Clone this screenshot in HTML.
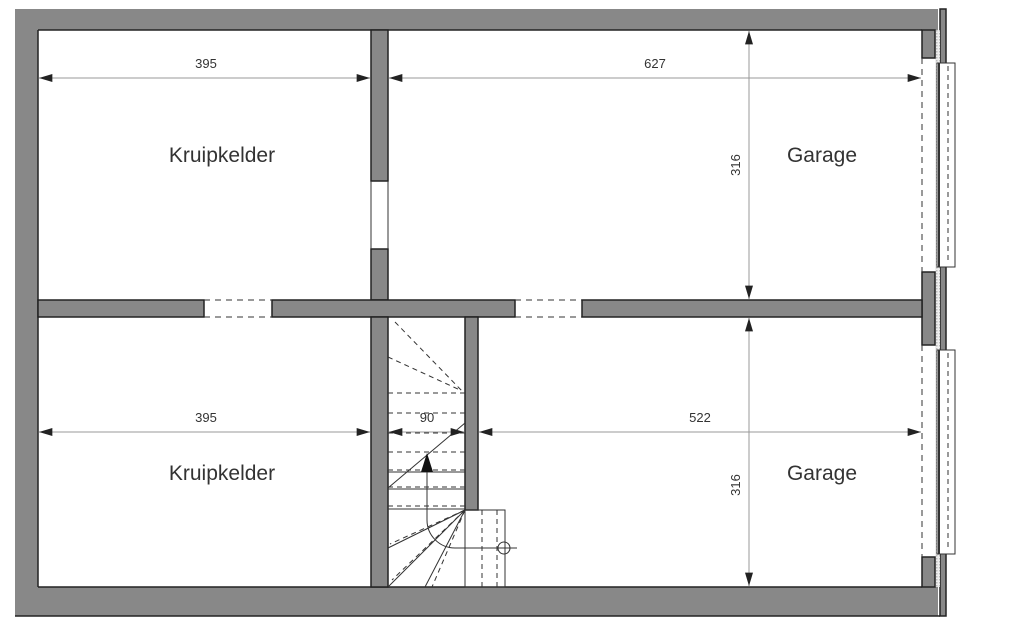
<!DOCTYPE html>
<html><head><meta charset="utf-8"><style>
html,body{margin:0;padding:0;background:#fff;}
svg{display:block;}
text{font-family:"Liberation Sans",sans-serif;fill:#333;}
</style></head><body>
<svg width="1024" height="633" viewBox="0 0 1024 633" xmlns="http://www.w3.org/2000/svg">
<defs>
<marker id="a" viewBox="0 0 10 6" refX="10" refY="3" markerWidth="20" markerHeight="8" markerUnits="userSpaceOnUse" orient="auto-start-reverse"><path d="M0,0L10,3L0,6z" fill="#222"/></marker>
<pattern id="h" width="3" height="3" patternUnits="userSpaceOnUse"><rect width="3" height="3" fill="#eee"/><rect width="1.5" height="1.5" fill="#bbb"/></pattern>
</defs>
<g fill="#888" stroke="#222" stroke-width="1.5">
<path d="M15,9 H938 V30 H38 V587 H938 V616 H15 Z" stroke="none"/>
<line x1="38" y1="30" x2="922" y2="30"/>
<line x1="38" y1="30" x2="38" y2="587"/>
<line x1="38" y1="587" x2="922" y2="587"/>
<line x1="15" y1="616" x2="940" y2="616"/>
<rect x="940" y="9" width="6" height="607"/>
<rect x="935" y="30" width="5" height="557" fill="url(#h)" stroke="none"/>
<rect x="922" y="30" width="13" height="28"/>
<rect x="922" y="272" width="13" height="73"/>
<rect x="922" y="557" width="13" height="30"/>
<rect x="371" y="30" width="17" height="151"/>
<rect x="371" y="249" width="17" height="51"/>
<rect x="38" y="300" width="166" height="17"/>
<rect x="272" y="300" width="243" height="17"/>
<rect x="582" y="300" width="340" height="17"/>
<rect x="371" y="317" width="17" height="270"/>
<rect x="465" y="317" width="13" height="193"/>
</g>
<g fill="none" stroke="#333" stroke-width="1">
<line x1="371" y1="181" x2="371" y2="249"/><line x1="388" y1="181" x2="388" y2="249"/>
<g stroke-dasharray="6,5">
<line x1="204" y1="300" x2="272" y2="300"/><line x1="204" y1="317" x2="272" y2="317"/>
<line x1="515" y1="300" x2="582" y2="300"/><line x1="515" y1="317" x2="582" y2="317"/>
<line x1="922" y1="58" x2="922" y2="272"/><line x1="922" y1="345" x2="922" y2="557"/>
</g>
<rect x="937" y="63" width="18" height="204" fill="#fff"/>
<rect x="937" y="350" width="18" height="204" fill="#fff"/>
<line x1="939" y1="63" x2="939" y2="267" stroke-width="2"/>
<line x1="939" y1="350" x2="939" y2="554" stroke-width="2"/>
<line x1="948" y1="66" x2="948" y2="264" stroke-dasharray="5,4"/>
<line x1="948" y1="353" x2="948" y2="551" stroke-dasharray="5,4"/>
<g stroke-dasharray="5,4">
<line x1="388" y1="393" x2="465" y2="393"/><line x1="388" y1="413" x2="465" y2="413"/>
<line x1="388" y1="433" x2="465" y2="433"/><line x1="388" y1="452" x2="465" y2="452"/>
<line x1="388" y1="470" x2="465" y2="470"/><line x1="388" y1="487" x2="465" y2="487"/>
<line x1="388" y1="506" x2="465" y2="506"/>
<line x1="395" y1="322" x2="463" y2="392"/><line x1="388" y1="357" x2="460" y2="390"/>
<line x1="465" y1="510" x2="390" y2="544"/><line x1="465" y1="510" x2="392" y2="580"/>
<line x1="465" y1="510" x2="432" y2="587"/>
<line x1="482" y1="510" x2="482" y2="587"/><line x1="497" y1="510" x2="497" y2="587"/>
</g>
<line x1="388" y1="472" x2="465" y2="472"/><line x1="388" y1="489" x2="465" y2="489"/><line x1="388" y1="509" x2="465" y2="509"/>
<line x1="388" y1="488" x2="465" y2="423"/>
<line x1="465" y1="510" x2="388" y2="548"/><line x1="465" y1="510" x2="388" y2="587"/><line x1="465" y1="510" x2="425" y2="587"/>
<rect x="465" y="510" width="40" height="77"/>
<path d="M427,470 V520 A28,28 0 0 0 455,548 H517"/>
<circle cx="504" cy="548" r="6"/>
</g>
<path d="M427,453 L421,472 L433,472 Z" fill="#111"/>
<g stroke="#999" stroke-width="1" marker-start="url(#a)" marker-end="url(#a)">
<line x1="39" y1="78" x2="370" y2="78"/>
<line x1="389" y1="78" x2="921" y2="78"/>
<line x1="749" y1="31" x2="749" y2="299"/>
<line x1="39" y1="432" x2="370" y2="432"/>
<line x1="389" y1="432" x2="464" y2="432"/>
<line x1="479" y1="432" x2="921" y2="432"/>
<line x1="749" y1="318" x2="749" y2="586"/>
</g>
<g font-size="13" text-anchor="middle">
<text x="206" y="68">395</text>
<text x="655" y="68">627</text>
<text x="206" y="422">395</text>
<text x="427" y="422">90</text>
<text x="700" y="422">522</text>
<text transform="translate(740,165) rotate(-90)">316</text>
<text transform="translate(740,485) rotate(-90)">316</text>
</g>
<g font-size="21" text-anchor="middle">
<text x="222" y="162">Kruipkelder</text>
<text x="222" y="480">Kruipkelder</text>
<text x="822" y="162">Garage</text>
<text x="822" y="480">Garage</text>
</g>
</svg>
</body></html>
